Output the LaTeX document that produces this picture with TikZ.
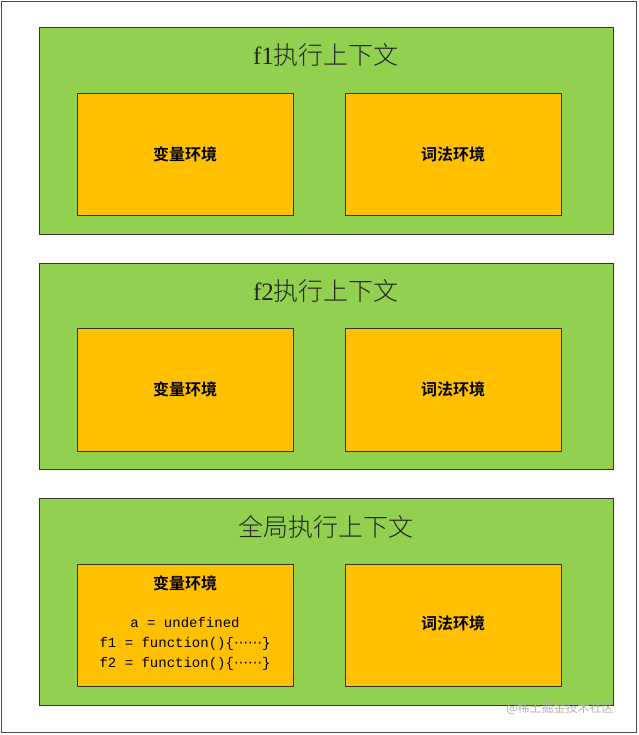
\documentclass[tikz,border=0pt]{standalone}
\usepackage{fontspec}
\newfontfamily\cjk{Noto Sans CJK SC}
\newfontfamily\cjklight{Noto Sans CJK SC Light}
\newfontfamily\cjkbold{Noto Sans CJK SC Bold}
\newfontfamily\mono{Liberation Mono}
\newfontfamily\lserif{Liberation Serif}
\newfontfamily\dejavu{DejaVu Sans}
\definecolor{ctxgreen}{HTML}{92D050}
\definecolor{envorange}{HTML}{FFC000}
\begin{document}
\begin{tikzpicture}[x=1pt,y=-1pt,
  ctx/.style={draw=black!80,fill=ctxgreen,line width=0.8pt},
  env/.style={draw=black!80,fill=envorange,line width=0.8pt},
  title/.style={font=\cjklight\fontsize{25}{28}\selectfont,text=black!85},
  envlabel/.style={font=\cjkbold\fontsize{16}{18}\selectfont},
  code/.style={font=\mono\fontsize{14}{20}\selectfont,align=center}]
\useasboundingbox (0,0) rectangle (638,735);
\draw[draw=black!70,line width=0.8pt,fill=white] (1,1) rectangle (636,732);
% context 1
\draw[ctx] (39,27) rectangle (613,234);
\node[title] (t1) at (326,55) {{\lserif f1}执行上下文};
\draw[env] (77,93) rectangle (293,215);
\node[envlabel] (v1) at (185,154) {变量环境};
\draw[env] (345,93) rectangle (561,215);
\node[envlabel] (l1) at (453,154) {词法环境};
% context 2
\draw[ctx] (39,263) rectangle (613,469);
\node[title] (t2) at (326,291) {{\lserif f2}执行上下文};
\draw[env] (77,328) rectangle (293,451);
\node[envlabel] (v2) at (185,389) {变量环境};
\draw[env] (345,328) rectangle (561,451);
\node[envlabel] (l2) at (453,389) {词法环境};
% global
\draw[ctx] (39,498) rectangle (613,705);
\node[title] (t3) at (326,527) {全局执行上下文};
\draw[env] (77,564) rectangle (293,686);
\node[envlabel] (v3) at (185,583) {变量环境};
\node[code] (c3) at (185,644) {a = undefined\\f1 = function()\{{\dejavu ⋯⋯}\}\\f2 = function()\{{\dejavu ⋯⋯}\}};
\draw[env] (345,564) rectangle (561,686);
\node[envlabel] (l3) at (453,623) {词法环境};
\node[font=\cjk\fontsize{12}{14}\selectfont,text=black!30] (wm) at (560,708) {@稀土掘金技术社区};
\end{tikzpicture}
\end{document}
